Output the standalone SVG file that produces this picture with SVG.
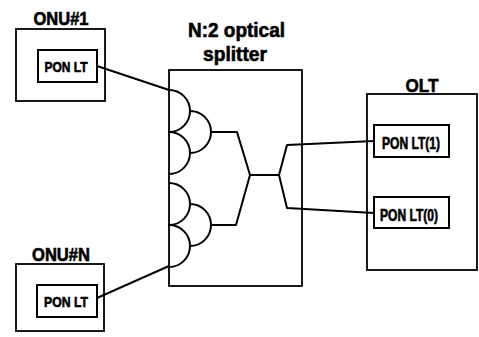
<svg xmlns="http://www.w3.org/2000/svg" width="479" height="337" viewBox="0 0 479 337">
<style>
.box{fill:none;stroke:#000;stroke-width:1.8}
.ibox{fill:none;stroke:#000;stroke-width:2}
.ln{fill:none;stroke:#000;stroke-width:2;stroke-linejoin:round}
.t{font-family:"Liberation Sans",Arial,sans-serif;font-weight:bold;fill:#000;stroke:#000;stroke-width:0.6;text-anchor:middle}
</style>
<rect width="479" height="337" fill="#fff"/>
<g id="onu1">
<rect class="box" x="16" y="29" width="89" height="72"/>
<rect class="ibox" x="38" y="50" width="59" height="32"/>
<text class="t" x="61" y="25" font-size="18" textLength="55" lengthAdjust="spacingAndGlyphs">ONU#1</text>
<text class="t" x="66" y="71.5" font-size="15" textLength="43" lengthAdjust="spacingAndGlyphs">PON LT</text>
</g>
<g id="onuN">
<rect class="box" x="16" y="264" width="88" height="67"/>
<rect class="ibox" x="37" y="285" width="60" height="32"/>
<text class="t" x="61" y="261" font-size="18" textLength="58" lengthAdjust="spacingAndGlyphs">ONU#N</text>
<text class="t" x="66" y="307" font-size="15" textLength="44" lengthAdjust="spacingAndGlyphs">PON LT</text>
</g>
<g id="splitter">
<rect class="box" x="169" y="70" width="133" height="216"/>
<text class="t" x="236.5" y="37" font-size="20" textLength="97" lengthAdjust="spacingAndGlyphs">N:2 optical</text>
<text class="t" x="235" y="61" font-size="20" textLength="64" lengthAdjust="spacingAndGlyphs">splitter</text>
<path class="ln" d="M169,90 A21,21 0 0 1 169,132 A21,21 0 0 1 169,174 M190,111 A21,21 0 0 1 190,153"/>
<path class="ln" d="M169,183 A21,21 0 0 1 169,225 A21,21 0 0 1 169,267 M190,204 A21,21 0 0 1 190,246"/>
<path class="ln" d="M211,132 L237,132 L250,175 L236,225 L211,225 M250,175 L279,175"/>
</g>
<g id="olt">
<rect class="box" x="367" y="94" width="110" height="176"/>
<text class="t" x="422" y="92" font-size="19" textLength="33" lengthAdjust="spacingAndGlyphs">OLT</text>
<rect class="ibox" x="374" y="125" width="75" height="32"/>
<text class="t" x="411" y="149" font-size="16" textLength="58" lengthAdjust="spacingAndGlyphs">PON LT(1)</text>
<rect class="ibox" x="374" y="197" width="75" height="31"/>
<text class="t" x="409" y="221" font-size="16" textLength="58" lengthAdjust="spacingAndGlyphs">PON LT(0)</text>
</g>
<g id="connectors">
<path class="ln" d="M97,66 L169,90"/>
<path class="ln" d="M97,298 L169,266"/>
<path class="ln" d="M279,175 L287,145 L374,141"/>
<path class="ln" d="M279,175 L287,208 L374,213"/>
</g>
</svg>
